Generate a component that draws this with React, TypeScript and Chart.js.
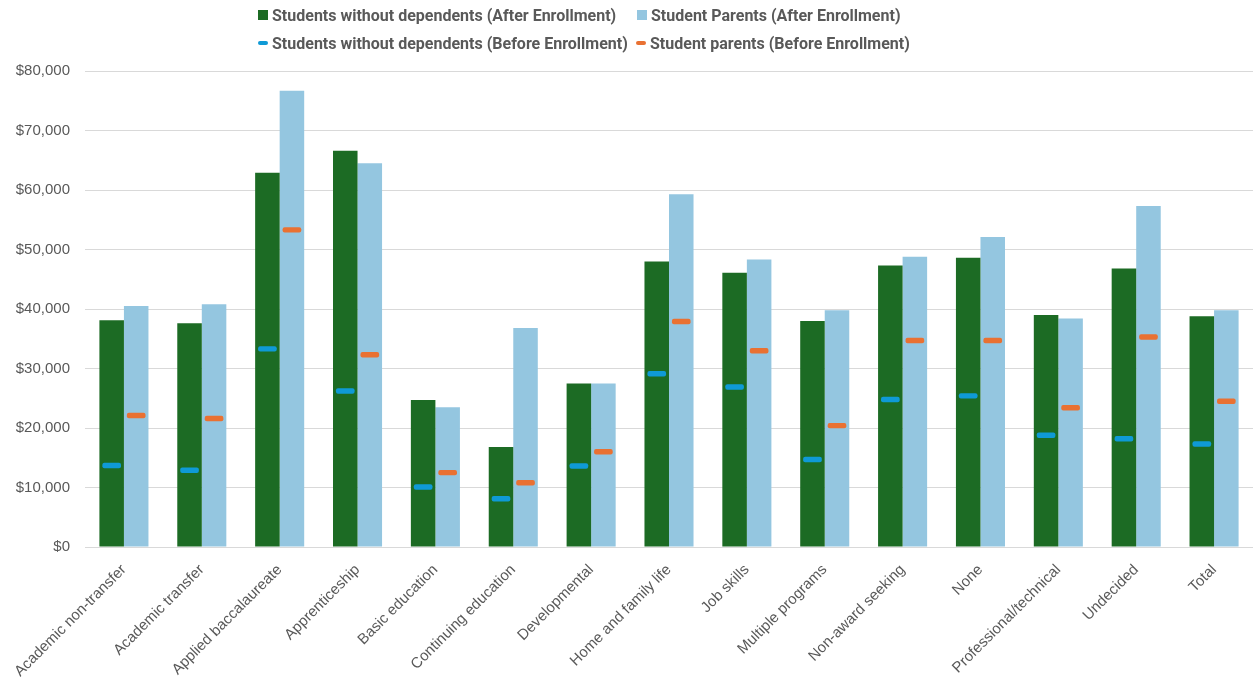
import React, { useEffect, useRef } from "react";
import { Chart, registerables } from "chart.js";

Chart.register(...registerables);

// Program of study categories
const programs = [
  "Academic non-transfer",
  "Academic transfer",
  "Applied baccalaureate",
  "Apprenticeship",
  "Basic education",
  "Continuing education",
  "Developmental",
  "Home and family life",
  "Job skills",
  "Multiple programs",
  "Non-award seeking",
  "None",
  "Professional/technical",
  "Undecided",
  "Total",
];

// Median annual earnings (USD)
const noDepsAfter = [38100, 37600, 62900, 66600, 24700, 16800, 27500, 48000, 46100, 38000, 47300, 48600, 39000, 46800, 38800];
const parentsAfter = [40500, 40800, 76700, 64500, 23500, 36800, 27500, 59300, 48300, 39800, 48800, 52100, 38400, 57300, 39800];
const noDepsBefore = [13700, 12900, 33300, 26200, 10100, 8100, 13600, 29100, 26900, 14700, 24800, 25400, 18800, 18200, 17300];
const parentsBefore = [22100, 21600, 53300, 32300, 12500, 10800, 16000, 37900, 33000, 20400, 34700, 34700, 23400, 35300, 24500];

const yMax = 80000;
const yStep = 10000;

const GREEN = "#1C6B24";
const LIGHT_BLUE = "#94C6E0";
const BLUE = "#0F9AD6";
const ORANGE = "#E97132";
const TEXT = "#595959";

// Half-thickness of the "before" dash markers, in dollars
const DASH_HALF = 460;

const legendItems = [
  { label: "Students without dependents (After Enrollment)", color: GREEN, kind: "box", left: 258, top: 5 },
  { label: "Student Parents (After Enrollment)", color: LIGHT_BLUE, kind: "box", left: 637, top: 5 },
  { label: "Students without dependents (Before Enrollment)", color: BLUE, kind: "dash", left: 258, top: 33 },
  { label: "Student parents (Before Enrollment)", color: ORANGE, kind: "dash", left: 636, top: 33 },
];

export default function App() {
  const canvasRef = useRef<HTMLCanvasElement | null>(null);

  useEffect(() => {
    if (!canvasRef.current) return;
    const dash = (vals: number[]) => vals.map((v) => [v - DASH_HALF, v + DASH_HALF]);
    const chart = new Chart(canvasRef.current, {
      type: "bar",
      data: {
        labels: programs,
        datasets: [
          {
            label: "Students without dependents (Before Enrollment)",
            data: dash(noDepsBefore) as any,
            backgroundColor: BLUE,
            stack: "a",
            order: 0,
            barPercentage: 0.76,
            categoryPercentage: 0.63,
            borderRadius: 2,
            borderSkipped: false,
          },
          {
            label: "Student parents (Before Enrollment)",
            data: dash(parentsBefore) as any,
            backgroundColor: ORANGE,
            stack: "b",
            order: 0,
            barPercentage: 0.76,
            categoryPercentage: 0.63,
            borderRadius: 2,
            borderSkipped: false,
          },
          {
            label: "Students without dependents (After Enrollment)",
            data: noDepsAfter,
            backgroundColor: GREEN,
            stack: "a",
            order: 1,
            barPercentage: 1,
            categoryPercentage: 0.63,
          },
          {
            label: "Student Parents (After Enrollment)",
            data: parentsAfter,
            backgroundColor: LIGHT_BLUE,
            stack: "b",
            order: 1,
            barPercentage: 1,
            categoryPercentage: 0.63,
          },
        ],
      },
      options: {
        animation: false,
        responsive: true,
        maintainAspectRatio: false,
        layout: { padding: { top: 71, right: 0, bottom: 0, left: 0 } },
        plugins: {
          legend: { display: false },
          tooltip: { enabled: false },
        },
        scales: {
          x: {
            grid: { display: false, drawTicks: false },
            border: { display: false },
            ticks: {
              autoSkip: false,
              minRotation: 45,
              maxRotation: 45,
              padding: 14,
              color: TEXT,
              font: { family: "'Liberation Sans', Arial, sans-serif", size: 15 },
            },
            afterFit: (scale: any) => {
              scale.height = 134;
            },
          },
          y: {
            stacked: false,
            min: 0,
            max: yMax,
            grid: { color: "#D9D9D9", lineWidth: 1, drawTicks: false },
            border: { display: false },
            ticks: {
              stepSize: yStep,
              padding: 15,
              color: TEXT,
              font: { family: "'Liberation Sans', Arial, sans-serif", size: 15 },
              callback: (v: any) => "$" + Number(v).toLocaleString("en-US"),
            },
            afterFit: (scale: any) => {
              scale.width = 85;
            },
          },
        },
      },
    });
    return () => chart.destroy();
  }, []);

  return (
    <div style={{ position: "fixed", left: 0, top: 0, width: 1253, height: 681, background: "#fff" }}>
      <canvas ref={canvasRef} />
      {legendItems.map((item) => (
        <div
          key={item.label}
          style={{
            position: "absolute",
            left: item.left,
            top: item.top,
            height: 20,
            display: "flex",
            alignItems: "center",
            whiteSpace: "nowrap",
            fontFamily: "Roboto, 'Liberation Sans', sans-serif",
            fontWeight: 700,
            fontSize: 16,
            color: TEXT,
          }}
        >
          <span
            style={{
              display: "inline-block",
              width: 10,
              height: item.kind === "box" ? 10 : 4,
              borderRadius: item.kind === "box" ? 0 : 2,
              background: item.color,
              marginRight: 4,
            }}
          />
          <span>{item.label}</span>
        </div>
      ))}
    </div>
  );
}
